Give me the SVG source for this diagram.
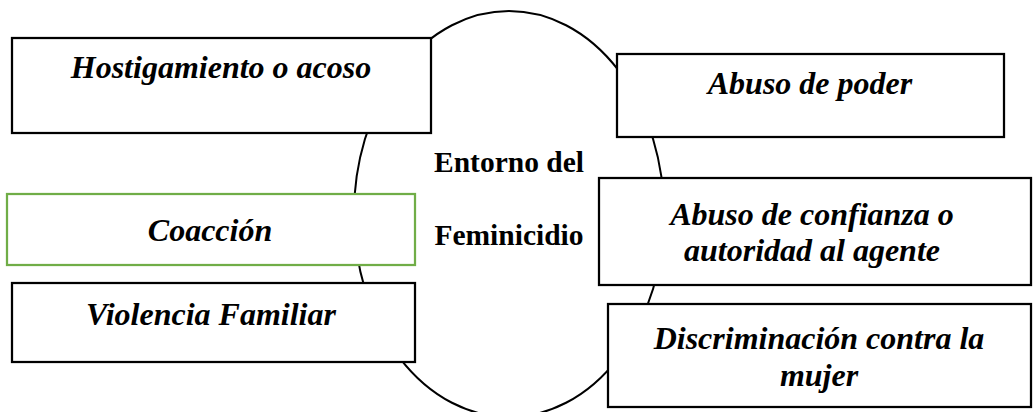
<svg xmlns="http://www.w3.org/2000/svg" width="1033" height="412" viewBox="0 0 1033 412">
<style>
.box{fill:#fff;stroke:#000;stroke-width:2.25}
.green{fill:#fff;stroke:#70AD47;stroke-width:2.25}
.lbl{font-family:"Liberation Serif","Times New Roman",serif;font-size:32px;font-weight:bold;font-style:italic;fill:#000;text-anchor:middle}
.ctr{font-family:"Liberation Serif","Times New Roman",serif;font-size:29.5px;font-weight:bold;fill:#000;text-anchor:middle}
</style>
<rect width="1033" height="412" fill="#fff"/>
<g id="entorno">
<ellipse cx="509" cy="214" rx="155" ry="203" fill="#fff" stroke="#000" stroke-width="2"/>
<text class="ctr" x="509" y="172">Entorno del</text>
<text class="ctr" x="509" y="245">Feminicidio</text>
</g>
<g id="connectors"></g>
<g id="hostigamiento">
<rect class="box" x="12" y="38" width="419" height="95"/>
<text class="lbl" x="221" y="78">Hostigamiento o acoso</text>
</g>
<g id="abuso-poder">
<rect class="box" x="617" y="54" width="387" height="83"/>
<text class="lbl" x="810" y="94">Abuso de poder</text>
</g>
<g id="abuso-confianza">
<rect class="box" x="599" y="178" width="432" height="107"/>
<text class="lbl" x="812" y="225">Abuso de confianza o</text>
<text class="lbl" x="812" y="261">autoridad al agente</text>
</g>
<g id="discriminacion">
<rect class="box" x="608" y="304" width="423" height="103"/>
<text class="lbl" x="819" y="349">Discriminación contra la</text>
<text class="lbl" x="819" y="386">mujer</text>
</g>
<g id="coaccion">
<rect class="green" x="7" y="194" width="408" height="71"/>
<text class="lbl" x="210" y="241">Coacción</text>
</g>
<g id="violencia">
<rect class="box" x="12" y="283" width="403" height="79"/>
<text class="lbl" x="211" y="325">Violencia Familiar</text>
</g>
</svg>
